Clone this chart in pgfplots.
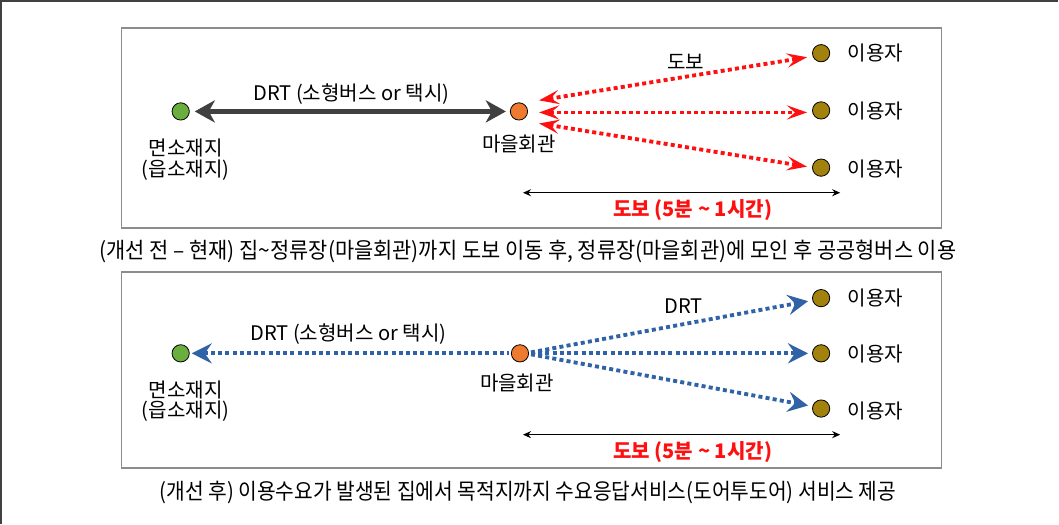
\documentclass[border=0pt]{standalone}
\usepackage{fontspec}
\setmainfont{Noto Sans CJK KR}
\usepackage{pgfplots}
\pgfplotsset{compat=1.18}
\usetikzlibrary{arrows.meta}
\usepackage{graphicx}

\definecolor{dotgreen}{HTML}{6AAE3E}
\definecolor{dotorange}{HTML}{EE7A30}
\definecolor{dotgold}{HTML}{A2820C}
\definecolor{walkred}{HTML}{FF1010}
\definecolor{drtblue}{HTML}{2F62A6}
\definecolor{bararrow}{HTML}{404040}
\definecolor{txt}{HTML}{333333}

\begin{document}
\begin{tikzpicture}
\begin{axis}[
  scale only axis, width=529.5pt, height=263.5pt,
  xmin=0, xmax=1059, ymin=0, ymax=527, y dir=reverse,
  axis lines=none, clip=false,
  every node/.style={text=txt, font=\fontsize{8.6}{10}\selectfont},
]
% outer frame (top and left edges)
\addplot[black!75, line width=1pt] coordinates {(6,527) (6,6) (1059,6)};
% panel boxes
\addplot[black!45, line width=0.8pt] coordinates {(126,33) (943,33) (943,232) (126,232) (126,33)};
\addplot[black!45, line width=0.8pt] coordinates {(126,276) (943,276) (943,471) (126,471) (126,276)};

% ---- panel 1: before ----
\addplot[bararrow, line width=2.6pt, {Stealth[length=10pt,width=11pt,inset=3pt]}-{Stealth[length=10pt,width=11pt,inset=3pt]}]
  coordinates {(199,116) (509,116)};
\addplot[walkred, line width=1.9pt, dash pattern=on 2pt off 1.6pt,
  {Stealth[length=10pt,width=7pt,inset=4pt]}-{Stealth[length=10pt,width=7pt,inset=4pt]}] coordinates {(542,105) (809,62)};
\addplot[walkred, line width=1.9pt, dash pattern=on 2pt off 1.6pt,
  {Stealth[length=10pt,width=7pt,inset=4pt]}-{Stealth[length=10pt,width=7pt,inset=4pt]}] coordinates {(542,117) (809,117)};
\addplot[walkred, line width=1.9pt, dash pattern=on 2pt off 1.6pt,
  {Stealth[length=10pt,width=7pt,inset=4pt]}-{Stealth[length=10pt,width=7pt,inset=4pt]}] coordinates {(542,128) (809,171)};
\addplot[black, line width=0.6pt, {Stealth[length=4pt,width=3.5pt]}-{Stealth[length=4pt,width=3.5pt]}]
  coordinates {(526,197) (842,197)};
\addplot[only marks, mark=*, mark size=4.3pt, mark options={draw=none, fill=dotgreen}] coordinates {(185,116)};
\addplot[only marks, mark=*, mark size=4.3pt, mark options={draw=none, fill=dotorange}] coordinates {(522,116)};
\addplot[only marks, mark=*, mark size=4.3pt, mark options={draw=none, fill=dotgold}] coordinates {(823,58) (823,115) (823,172)};

\node at (355,99) {DRT (소형버스 or 택시)};
\node at (190,152) {면소재지};
\node at (190,175) {(읍소재지)};
\node at (522,148) {마을회관};
\node at (688,67) {도보};
\node at (877,58) {이용자};
\node at (877,116) {이용자};
\node at (877,173) {이용자};
\node[text=walkred] at (695,214) {\bfseries 도보 (5분 \textasciitilde{} 1시간)};
\node[font=\fontsize{11}{13}\selectfont] at (531,255)
  {\scalebox{0.945}[1]{(개선 전 – 현재) 집\textasciitilde{}정류장(마을회관)까지 도보 이동 후, 정류장(마을회관)에 모인 후 공공형버스 이용}};

% ---- panel 2: after ----
\addplot[drtblue, line width=1.9pt, dash pattern=on 2pt off 1.6pt, {Stealth[length=10pt,width=10pt,inset=3.5pt]}-]
  coordinates {(196,357) (512,357)};
\addplot[drtblue, line width=1.9pt, dash pattern=on 2pt off 1.6pt, -{Stealth[length=10pt,width=10pt,inset=3.5pt]}]
  coordinates {(534,356) (810,305)};
\addplot[drtblue, line width=1.9pt, dash pattern=on 2pt off 1.6pt, -{Stealth[length=10pt,width=10pt,inset=3.5pt]}]
  coordinates {(534,357) (810,357)};
\addplot[drtblue, line width=1.9pt, dash pattern=on 2pt off 1.6pt, -{Stealth[length=10pt,width=10pt,inset=3.5pt]}]
  coordinates {(534,358) (810,409)};
\addplot[black, line width=0.6pt, {Stealth[length=4pt,width=3.5pt]}-{Stealth[length=4pt,width=3.5pt]}]
  coordinates {(526,438) (842,438)};
\addplot[only marks, mark=*, mark size=4.3pt, mark options={draw=none, fill=dotgreen}] coordinates {(185,357)};
\addplot[only marks, mark=*, mark size=4.3pt, mark options={draw=none, fill=dotorange}] coordinates {(523,357)};
\addplot[only marks, mark=*, mark size=4.3pt, mark options={draw=none, fill=dotgold}] coordinates {(823,302) (823,357) (823,412)};

\node at (352,338) {DRT (소형버스 or 택시)};
\node at (190,393) {면소재지};
\node at (190,415) {(읍소재지)};
\node at (520,387) {마을회관};
\node at (686,310) {DRT};
\node at (877,302) {이용자};
\node at (877,358) {이용자};
\node at (877,414) {이용자};
\node[text=walkred] at (695,455) {\bfseries 도보 (5분 \textasciitilde{} 1시간)};
\node[font=\fontsize{11}{13}\selectfont] at (531,496)
  {\scalebox{0.92}[1]{(개선 후) 이용수요가 발생된 집에서 목적지까지 수요응답서비스(도어투도어) 서비스 제공}};
\end{axis}
\end{tikzpicture}
\end{document}
